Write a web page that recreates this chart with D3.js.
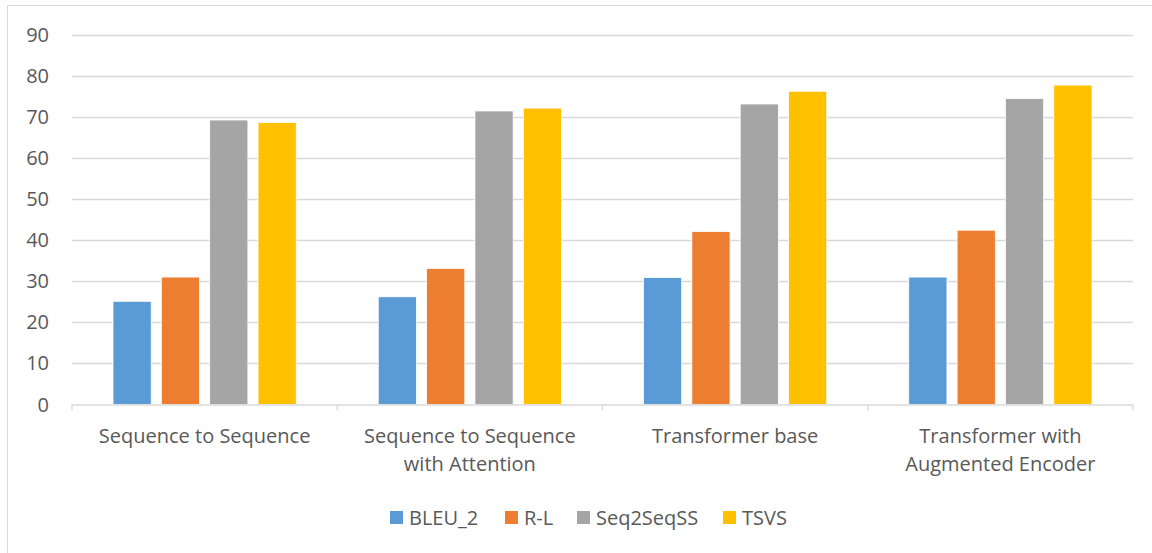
<!DOCTYPE html>
<html>
<head>
<meta charset="utf-8">
<script src="https://cdn.jsdelivr.net/npm/d3@7"></script>
<style>
  html, body { margin: 0; padding: 0; background: #fff; }
  svg { display: block; font-family: "Open Sans", sans-serif; }
</style>
</head>
<body>
<svg id="chart" width="1152" height="553"></svg>
<script>
// categories and series
var categories = [
    ['Sequence to Sequence'],
    ['Sequence to Sequence', 'with Attention'],
    ['Transformer base'],
    ['Transformer with', 'Augmented Encoder']
];
var seriesNames = ['BLEU_2', 'R-L', 'Seq2SeqSS', 'TSVS'];
var bleu2 = [25.1, 26.2, 30.9, 31.0];
var rougeL = [31.0, 33.1, 42.1, 42.4];
var seq2seqSS = [69.2, 71.4, 73.1, 74.4];
var tsvs = [68.6, 72.1, 76.2, 77.7];
var yTicks = [0, 10, 20, 30, 40, 50, 60, 70, 80, 90];
var colors = ['#5b9bd5', '#ed7d31', '#a5a5a5', '#ffc000'];

(function () {
    var values = [bleu2, rougeL, seq2seqSS, tsvs];
    var svg = d3.select('#chart');
    var fontSize = 20;

    // chart frame (only top/left visible in the reference)
    svg.append('rect')
        .attr('x', 7.5).attr('y', 5.5)
        .attr('width', 1160).attr('height', 560)
        .attr('fill', 'none')
        .attr('stroke', '#d9d9d9');

    var m = {left: 72, right: 1133, top: 34.5, bottom: 404.5};

    var x0 = d3.scaleBand()
        .domain(d3.range(categories.length))
        .range([m.left, m.right]);
    var x1 = d3.scaleBand()
        .domain(seriesNames)
        .range([41, x0.bandwidth() - 41])
        .paddingInner(0.21);
    var y = d3.scaleLinear().domain([0, 90]).range([m.bottom, m.top]);

    // gridlines
    svg.append('g').selectAll('line')
        .data(yTicks.slice(1))
        .join('line')
        .attr('x1', m.left).attr('x2', m.right)
        .attr('y1', function (d) { return Math.round(y(d)) + 0.5; })
        .attr('y2', function (d) { return Math.round(y(d)) + 0.5; })
        .attr('stroke', '#d9d9d9')
        .attr('stroke-width', 1.3);

    // y labels
    svg.append('g').selectAll('text')
        .data(yTicks)
        .join('text')
        .attr('x', 49)
        .attr('y', function (d) { return y(d); })
        .attr('dy', '0.35em')
        .attr('text-anchor', 'end')
        .attr('font-size', fontSize)
        .attr('fill', '#595959')
        .text(function (d) { return d; });

    // bars
    var groups = svg.append('g').selectAll('g')
        .data(categories.map(function (c, i) { return i; }))
        .join('g')
        .attr('transform', function (i) { return 'translate(' + x0(i) + ',0)'; });

    groups.selectAll('rect')
        .data(function (i) {
            return seriesNames.map(function (s, k) { return {s: s, k: k, v: values[k][i]}; });
        })
        .join('rect')
        .attr('x', function (d) { return x1(d.s); })
        .attr('width', x1.bandwidth())
        .attr('y', function (d) { return y(d.v); })
        .attr('height', function (d) { return y(0) - y(d.v); })
        .attr('fill', function (d) { return colors[d.k]; })
        .attr('stroke', '#fff')
        .attr('stroke-width', 0.8);

    // x axis line and tick marks
    var xAxis = svg.append('g');
    xAxis.append('line')
        .attr('x1', m.left).attr('x2', m.right)
        .attr('y1', m.bottom + 0.5).attr('y2', m.bottom + 0.5)
        .attr('stroke', '#d9d9d9')
        .attr('stroke-width', 1.3);
    xAxis.selectAll('.tk')
        .data(d3.range(categories.length + 1))
        .join('line')
        .attr('class', 'tk')
        .attr('x1', function (i) { return m.left + i * x0.step(); })
        .attr('x2', function (i) { return m.left + i * x0.step(); })
        .attr('y1', m.bottom).attr('y2', m.bottom + 6)
        .attr('stroke', '#d9d9d9')
        .attr('stroke-width', 1.3);

    // category labels
    var catLabels = svg.append('g').selectAll('text')
        .data(categories)
        .join('text')
        .attr('x', function (c, i) { return x0(i) + x0.bandwidth() / 2; })
        .attr('y', 443)
        .attr('text-anchor', 'middle')
        .attr('font-size', fontSize)
        .attr('fill', '#595959');
    catLabels.selectAll('tspan')
        .data(function (c) { return c; })
        .join('tspan')
        .attr('x', function () { return this.parentNode.getAttribute('x'); })
        .attr('dy', function (d, j) { return j === 0 ? 0 : 28; })
        .text(function (d) { return d; });

    // legend
    var legendX = [390, 505, 577, 723];
    var legend = svg.append('g').selectAll('g')
        .data(seriesNames)
        .join('g')
        .attr('transform', function (d, i) { return 'translate(' + legendX[i] + ',511)'; });
    legend.append('rect')
        .attr('width', 13).attr('height', 13)
        .attr('fill', function (d, i) { return colors[i]; });
    legend.append('text')
        .attr('x', 19).attr('y', 6.5)
        .attr('dy', '0.35em')
        .attr('font-size', fontSize)
        .attr('fill', '#595959')
        .text(function (d) { return d; });
})();
</script>
</body>
</html>
